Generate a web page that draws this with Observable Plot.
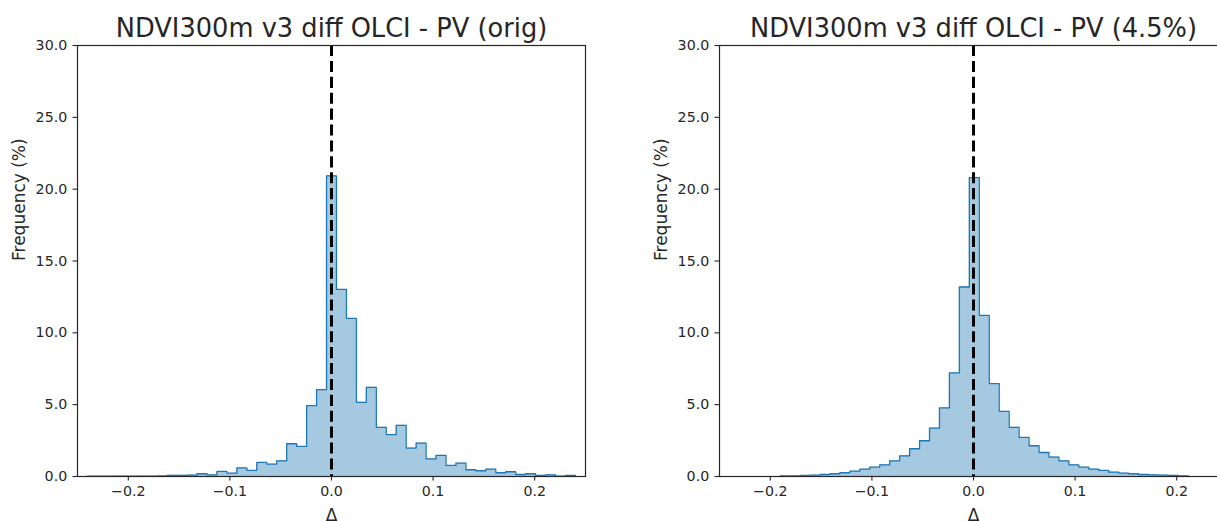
<!DOCTYPE html>
<html>
<head>
<meta charset="utf-8">
<script src="https://cdn.jsdelivr.net/npm/d3@7"></script>
<script src="https://cdn.jsdelivr.net/npm/@observablehq/plot@0.6"></script>
<style>
  html, body { margin: 0; padding: 0; background: #fff; overflow: hidden; width: 1217px; height: 521px; }
  #wrap { position: relative; width: 1217px; height: 521px; overflow: hidden; }
  .panel { position: absolute; top: 0; width: 608px; height: 521px; }
  .panel svg { max-width: none !important; width: 608px !important; height: 521px !important; }
</style>
</head>
<body>
<div id="wrap">
  <div class="panel" id="left" style="left:0px"></div>
  <div class="panel" id="right" style="left:642px"></div>
</div>
<script>
// ---- data ----
const titleLeft = "NDVI300m v3 diff OLCI - PV (orig)";
const titleRight = "NDVI300m v3 diff OLCI - PV (4.5%)";
const xLabel = "Δ";
const yLabel = "Frequency (%)";
const xTicks = [-0.2, -0.1, 0.0, 0.1, 0.2];
const yTicks = [0, 5, 10, 15, 20, 25, 30];

// bin edges (n+1) and frequencies (n), left panel (orig)
const leftEdges = [-0.2401, -0.2303, -0.2205, -0.2107, -0.2009, -0.1911, -0.1813, -0.1715, -0.1617, -0.1519,
  -0.1421, -0.1323, -0.1225, -0.1127, -0.1029, -0.0931, -0.0833, -0.0735, -0.0637, -0.0539,
  -0.0441, -0.0343, -0.0245, -0.0147, -0.0049, 0.0049, 0.0147, 0.0245, 0.0343, 0.0441,
  0.0539, 0.0637, 0.0735, 0.0833, 0.0931, 0.1029, 0.1127, 0.1225, 0.1323, 0.1421,
  0.1519, 0.1617, 0.1715, 0.1813, 0.1911, 0.2009, 0.2107, 0.2205, 0.2303, 0.2401];
const leftFreq = [0.02, 0.02, 0.02, 0.03, 0.02, 0.03, 0.03, 0.04, 0.08, 0.08,
  0.10, 0.19, 0.12, 0.35, 0.23, 0.60, 0.42, 0.98, 0.86, 1.09,
  2.28, 2.09, 4.93, 6.05, 20.93, 13.02, 11.00, 5.16, 6.21, 3.42,
  2.91, 3.56, 1.98, 2.33, 1.23, 1.47, 0.77, 0.93, 0.47, 0.40,
  0.51, 0.26, 0.33, 0.14, 0.19, 0.07, 0.12, 0.02, 0.07];

// right panel (4.5%)
const rightEdges = [-0.1903, -0.1805, -0.1707, -0.1609, -0.1511, -0.1413, -0.1315, -0.1217, -0.1119, -0.1021,
  -0.0923, -0.0825, -0.0727, -0.0629, -0.0531, -0.0433, -0.0335, -0.0237, -0.0139, -0.0041,
  0.0057, 0.0155, 0.0253, 0.0351, 0.0449, 0.0547, 0.0645, 0.0743, 0.0841, 0.0939,
  0.1037, 0.1135, 0.1233, 0.1331, 0.1429, 0.1527, 0.1625, 0.1723, 0.1821, 0.1919,
  0.2017, 0.2115];
const rightFreq = [0.04, 0.05, 0.07, 0.09, 0.14, 0.19, 0.26, 0.37, 0.51, 0.65,
  0.81, 1.09, 1.44, 1.93, 2.49, 3.37, 4.77, 7.21, 13.19, 20.81,
  11.21, 6.47, 4.53, 3.42, 2.72, 2.14, 1.67, 1.35, 1.09, 0.81,
  0.65, 0.51, 0.42, 0.30, 0.23, 0.19, 0.14, 0.12, 0.09, 0.07,
  0.05];

// ---- chart ----
function stepPoints(edges, freq) {
  const pts = [{x: edges[0], y: 0}];
  freq.forEach((v, i) => pts.push({x: edges[i], y: v}));
  pts.push({x: edges[edges.length - 1], y: freq[freq.length - 1]});
  pts.push({x: edges[edges.length - 1], y: 0});
  return pts;
}

const ink = "#262626";

function panel(edges, freq, title) {
  const pts = stepPoints(edges, freq);
  return Plot.plot({
    width: 608,
    height: 521,
    marginLeft: 77,
    marginRight: 23,
    marginTop: 45,
    marginBottom: 45,
    style: {fontFamily: "DejaVu Sans, sans-serif", color: ink, background: "white", overflow: "visible"},
    x: {domain: [-0.25, 0.25], label: null},
    y: {domain: [0, 30], label: null},
    marks: [
      Plot.areaY(pts, {x: "x", y: "y", curve: "step-after", fill: "#a5c9e1"}),
      Plot.lineY(pts, {x: "x", y: "y", curve: "step-after", stroke: "#1f77b4", strokeWidth: 1.3}),
      Plot.ruleX([0], {stroke: "black", strokeWidth: 3, strokeDasharray: "11.1,4.8"}),
      Plot.frame({stroke: ink, strokeWidth: 1.2}),
      Plot.axisX({ticks: xTicks, tickFormat: d3.format(".1f"), tickSize: 4.5, tickPadding: 5,
        fontSize: 14.2, stroke: ink, strokeWidth: 1.1, label: null}),
      Plot.axisY({ticks: yTicks, tickFormat: d3.format(".1f"), tickSize: 4.5, tickPadding: 5.8,
        fontSize: 14.2, stroke: ink, strokeWidth: 1.1, label: null}),
      Plot.text([title], {frameAnchor: "top", dy: -8.5, lineAnchor: "bottom", fontSize: 25.7, fill: ink}),
      Plot.text([yLabel], {frameAnchor: "left", dx: -58, rotate: -90, fontSize: 17, fill: ink}),
      Plot.text([xLabel], {frameAnchor: "bottom", dy: 32, lineAnchor: "top", fontSize: 17, fill: ink})
    ]
  });
}

document.getElementById("left").appendChild(panel(leftEdges, leftFreq, titleLeft));
document.getElementById("right").appendChild(panel(rightEdges, rightFreq, titleRight));
</script>
</body>
</html>
